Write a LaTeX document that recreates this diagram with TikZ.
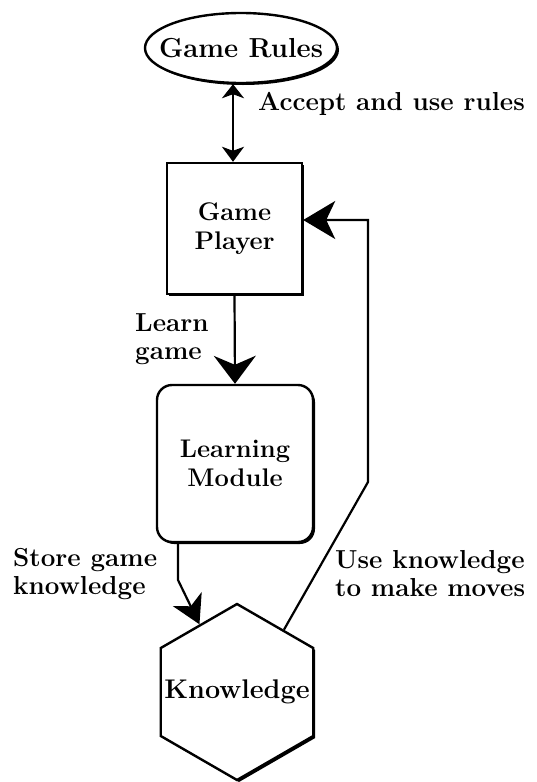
\documentclass[tikz,border=0pt]{standalone}
\usetikzlibrary{arrows.meta,shapes.geometric,shadows,calc}
\begin{document}
\begin{tikzpicture}[x=1pt,y=-1pt,
  shad/.style={drop shadow={shadow xshift=2pt, shadow yshift=-2pt, opacity=1, fill=black}},
  box/.style={draw, line width=2.4pt, fill=white, shad, inner sep=0pt, align=center,
    font=\bfseries\fontsize{25.5}{29}\selectfont},
  lbl/.style={align=left, inner sep=0pt, font=\bfseries\fontsize{26}{28}\selectfont},
  conn/.style={line width=2.2pt},
  bigtip/.style={-{Stealth[length=28pt, width=42pt, inset=9pt]}},
  fbtip/.style={-{Stealth[length=32pt, width=38pt, inset=9pt]}},
  sttip/.style={-{Stealth[length=28pt, width=32pt, inset=8pt]}},
  dbltip/.style={{Stealth[length=14pt, width=22pt, inset=4pt]}-{Stealth[length=15pt, width=22pt, inset=4pt]}}
]
\useasboundingbox (0,0) rectangle (537,782);

\node[box, ellipse, minimum width=192pt, minimum height=70pt] (gr) at (241,48) {};
\node[inner sep=0pt, font=\bfseries\fontsize{27.5}{29}\selectfont] (grt) at (gr.center) {Game Rules};
\node[box, rectangle, minimum width=135pt, minimum height=131pt] (gp) at (234.5,228.5) {Game\\Player};
\node[box, rectangle, rounded corners=15pt, minimum width=156pt, minimum height=157pt] (lm) at (235,463.5) {Learning\\Module};
\node[box, regular polygon, regular polygon sides=6, shape border rotate=30,
      minimum size=176pt] (kn) at (237,692) {};
\node[inner sep=0pt, font=\bfseries\fontsize{27}{29}\selectfont] (knt) at (kn.center) {Knowledge};

\coordinate (a1) at (233,0);
\draw[conn, dbltip] (a1 |- gr.south) -- (a1 |- gp.north);
\node[lbl, anchor=west] (lab1) at (258,104) {Accept and use rules};

\draw[conn, bigtip] (gp.south) -- (lm.north);
\node[lbl, anchor=west] (lab2) at (135,339) {Learn\\game};

\coordinate (s1) at (178,580);
\draw[conn, sttip] (s1 |- lm.south) -- (s1) -- (kn.119);
\node[lbl, anchor=west] (lab3) at (13,574) {Store game\\knowledge};

\coordinate (f1) at (368,482);
\coordinate (f2) at (368,220);
\draw[conn, fbtip] (kn.53) -- (f1) -- (f2) -- (f2 -| gp.east);
\node[lbl, anchor=west] (lab4) at (335,574) {Use knowledge\\to make moves};
\end{tikzpicture}
\end{document}
